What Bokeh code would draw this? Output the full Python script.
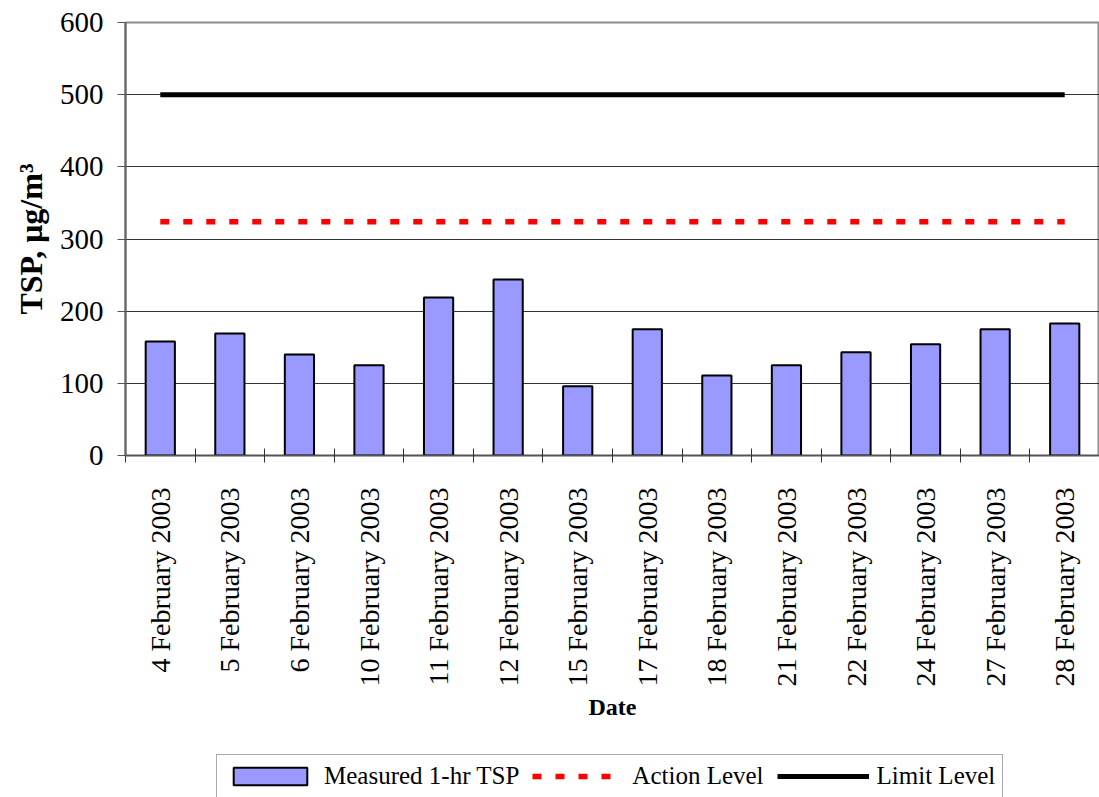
import math
from bokeh.plotting import figure
from bokeh.layouts import column
from bokeh.models import Range1d, FixedTicker, Legend, LegendItem
from bokeh.embed import file_html
from bokeh.resources import INLINE

# ---- data ----
dates = ["4 February 2003", "5 February 2003", "6 February 2003", "10 February 2003",
         "11 February 2003", "12 February 2003", "15 February 2003", "17 February 2003",
         "18 February 2003", "21 February 2003", "22 February 2003", "24 February 2003",
         "27 February 2003", "28 February 2003"]
tsp = [158, 169, 140, 125, 219, 244, 96, 175, 111, 125, 143, 154, 175, 183]
ACTION_LEVEL = 324
LIMIT_LEVEL = 500
y_ticks = [0, 100, 200, 300, 400, 500, 600]

FONT = "Liberation Serif"
BAR_FILL = "#9999FF"
idx = list(range(len(dates)))

p = figure(width=1099, height=753, output_backend="svg", toolbar_location=None,
           x_range=Range1d(-0.5, len(dates) - 0.5), y_range=Range1d(y_ticks[0], y_ticks[-1]),
           min_border_left=125, min_border_top=22, min_border_right=0,
           min_border_bottom=298)
p.outline_line_color = "#8c8c8c"
p.outline_line_width = 2
p.background_fill_color = "white"
p.border_fill_color = "white"

p.xgrid.grid_line_color = None
p.ygrid.grid_line_color = "#333333"
p.ygrid.grid_line_width = 1
p.ygrid.ticker = FixedTicker(ticks=y_ticks)

bar_style = dict(width=0.42, fill_color=BAR_FILL, line_color="black", line_width=2)
act_style = dict(line_color="#FF0000", line_width=5.5, line_dash="9 14", line_cap="butt")
lim_style = dict(line_color="black", line_width=5, line_cap="butt")

p.vbar(x=idx, top=tsp, **bar_style)
p.line(x=[idx[0], idx[-1]], y=[ACTION_LEVEL, ACTION_LEVEL], **act_style)
p.line(x=[idx[0], idx[-1]], y=[LIMIT_LEVEL, LIMIT_LEVEL], **lim_style)

# y axis
ya = p.yaxis[0]
ya.ticker = FixedTicker(ticks=y_ticks)
ya.axis_label = "TSP, \u03bcg/m\u00b3"
ya.axis_label_text_font = FONT
ya.axis_label_text_font_style = "bold"
ya.axis_label_text_font_size = "32px"
ya.axis_label_text_color = "black"
ya.axis_label_standoff = 8
ya.major_label_text_font = FONT
ya.major_label_text_font_size = "29px"
ya.major_label_text_color = "black"
ya.major_label_standoff = 14
ya.major_tick_out = 8
ya.major_tick_in = 0
ya.minor_tick_line_color = None
ya.axis_line_color = "#666666"
ya.axis_line_width = 2
ya.major_tick_line_color = "#555555"

# x axis
xa = p.xaxis[0]
xa.ticker = FixedTicker(ticks=idx, minor_ticks=[i - 0.5 for i in range(len(dates) + 1)])
xa.major_label_overrides = {i: d for i, d in enumerate(dates)}
xa.major_label_orientation = math.pi / 2
xa.major_label_text_font = FONT
xa.major_label_text_font_size = "28px"
xa.major_label_text_color = "black"
xa.major_label_standoff = 25
xa.major_tick_line_color = None
xa.major_tick_out = 0
xa.major_tick_in = 0
xa.minor_tick_line_color = "#333333"
xa.minor_tick_out = 7
xa.minor_tick_in = 7
xa.axis_line_color = "#555555"
xa.axis_line_width = 1.5
xa.axis_label = "Date"
xa.axis_label_text_font = FONT
xa.axis_label_text_font_style = "bold"
xa.axis_label_text_font_size = "24px"
xa.axis_label_text_color = "black"
xa.axis_label_standoff = 4

# ---- legend strip (separate small figure below the chart, hidden proxy renderers) ----
lg = figure(width=1099, height=44, output_backend="svg", toolbar_location=None,
            x_range=Range1d(0, 1), y_range=Range1d(0, 1),
            x_axis_location=None, y_axis_location=None, min_border=0)
lg.outline_line_color = None
lg.grid.visible = False
lg.background_fill_color = "white"
lg.border_fill_color = "white"
r_bar = lg.vbar(x=idx, top=tsp, visible=False, **bar_style)
r_act = lg.line(x=[idx[0], idx[-1]], y=[ACTION_LEVEL, ACTION_LEVEL], visible=False, **act_style)
r_lim = lg.line(x=[idx[0], idx[-1]], y=[LIMIT_LEVEL, LIMIT_LEVEL], visible=False, **lim_style)

legend = Legend(items=[LegendItem(label="Measured 1-hr TSP", renderers=[r_bar]),
                       LegendItem(label="Action Level", renderers=[r_act]),
                       LegendItem(label="Limit Level", renderers=[r_lim])],
                orientation="horizontal", location=(91, -1))
legend.label_text_font = FONT
legend.label_text_font_size = "25px"
legend.label_text_color = "black"
legend.glyph_width = 92
legend.glyph_height = 22
legend.label_standoff = 8
legend.spacing = 13
legend.padding = 7
legend.margin = 0
legend.border_line_color = "#555555"
legend.border_line_width = 1.5
legend.background_fill_color = "white"
legend.background_fill_alpha = 1
legend.inactive_fill_alpha = 0
lg.add_layout(legend, "center")

layout = column(p, lg, spacing=0)

html = file_html(layout, INLINE)
html = html.replace("<head>", "<head><style>html,body{overflow:hidden}</style>", 1)
open("out.html", "w").write(html)
